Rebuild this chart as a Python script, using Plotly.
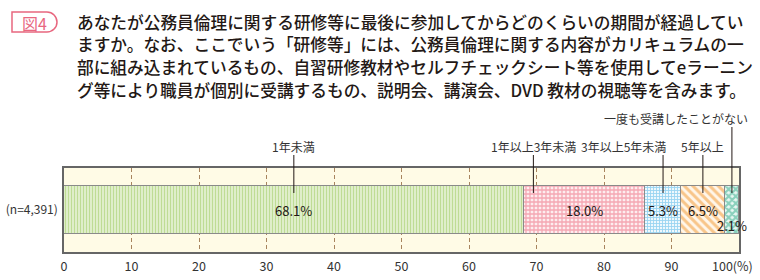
import plotly.graph_objects as go

# ---- data -------------------------------------------------------------
categories = ["1年未満", "1年以上3年未満", "3年以上5年未満", "5年以上", "一度も受講したことがない"]
values = [68.1, 18.0, 5.3, 6.5, 2.1]
sample_label = "(n=4,391)"
x_ticks = [0, 10, 20, 30, 40, 50, 60, 70, 80, 90, 100]
fig_tag = "図4"
question_lines = [
    "あなたが公務員倫理に関する研修等に最後に参加してからどのくらいの期間が経過してい",
    "ますか。なお、ここでいう「研修等」には、公務員倫理に関する内容がカリキュラムの一",
    "部に組み込まれているもの、自習研修教材やセルフチェックシート等を使用してeラーニン",
    "グ等により職員が個別に受講するもの、説明会、講演会、DVD 教材の視聴等を含みます。",
]

# ---- styling ----------------------------------------------------------
patterns = [
    dict(shape="|", fgcolor="#8DC247", bgcolor="#EEF6E2", size=3, solidity=0.55),
    dict(shape="+", fgcolor="#EC6277", bgcolor="#FDEDEF", size=4, solidity=0.55),
    dict(shape="+", fgcolor="#45B1E6", bgcolor="#EEF8FD", size=3, solidity=0.5),
    dict(shape="\\", fgcolor="#F29428", bgcolor="#FFF6EA", size=6, solidity=0.5),
    dict(shape="x", fgcolor="#2AAA86", bgcolor="#EAF7F3", size=5, solidity=0.65),
]
# where each callout line meets its segment (fraction of segment width)
leader_frac = [0.5, 0.08, 0.5, 0.5, 0.5]
# callout text placement: (anchor, x pixel shift, label y px, line top px)
callout_style = [
    ("center", 0, 146, 155),
    ("center", 0, 146, 155),
    ("right", 5, 146, 155),
    ("center", 0, 146, 155),
    ("right", 18, 118, 127),
]

W, H = 760, 280
M = dict(l=64, r=21, t=168, b=28)
PW = W - M["l"] - M["r"]
PH = H - M["t"] - M["b"]


def px_x(px):
    return (px - M["l"]) / PW


def px_y(py):
    return (H - M["b"] - py) / PH


TEXT = "#231815"
FONT = "Noto Sans CJK JP"

fig = go.Figure()

starts = []
acc = 0.0
for v in values:
    starts.append(acc)
    acc += v

for name, v, pat in zip(categories, values, patterns):
    fig.add_trace(go.Bar(
        y=[sample_label], x=[v], name=name, orientation="h", width=0.57,
        marker=dict(color=pat["bgcolor"], pattern=pat,
                    line=dict(color="#8A8A8A", width=1)),
        showlegend=False, hoverinfo="skip",
    ))

annotations = []
shapes = []

# value labels
for i, (s, v) in enumerate(zip(starts, values)):
    annotations.append(dict(
        x=s + v / 2, y=sample_label, xref="x", yref="y",
        text=f"{v:.1f}%", showarrow=False,
        font=dict(family=FONT, size=13, color=TEXT),
        yshift=-15 if i == len(values) - 1 else 0,
    ))

# callouts
for name, s, v, f, (anc, xs, ly, top) in zip(categories, starts, values,
                                              leader_frac, callout_style):
    lx = s + v * f
    shapes.append(dict(type="line", xref="x", yref="paper",
                       x0=lx, x1=lx, y0=px_y(top), y1=px_y(193),
                       line=dict(color="#231815", width=1)))
    annotations.append(dict(
        x=lx, y=px_y(ly), xref="x", yref="paper", text=name,
        showarrow=False, xanchor=anc, yanchor="middle", xshift=xs,
        font=dict(family=FONT, size=12, color="#333333"),
    ))

# last tick label with unit
annotations.append(dict(
    x=x_ticks[-1], y=px_y(265), xref="x", yref="paper", text="100(%)",
    showarrow=False, xanchor="center", yanchor="middle", xshift=-7,
    font=dict(family=FONT, size=12.5, color="#333333"),
))

# question text
line_y = [22, 44.5, 67, 89.5]
for t, ly in zip(question_lines, line_y):
    annotations.append(dict(
        x=px_x(75), y=px_y(ly), xref="paper", yref="paper", text=t,
        showarrow=False, xanchor="left", yanchor="middle",
        font=dict(family=FONT, size=16.7, color=TEXT, weight=500),
    ))

# figure tag box (square left end, round right end)
x0, x1, yt, yb, r = 12, 47, 12, 32, 10
k = 0.5523 * r
cy = (yt + yb) / 2
pts = lambda x, y: f"{px_x(x):.5f},{px_y(y):.5f}"
path = (f"M {pts(x0, yt)} L {pts(x1, yt)} "
        f"C {pts(x1 + k, yt)} {pts(x1 + r, cy - k)} {pts(x1 + r, cy)} "
        f"C {pts(x1 + r, cy + k)} {pts(x1 + k, yb)} {pts(x1, yb)} "
        f"L {pts(x0, yb)} Z")
shapes.append(dict(type="path", xref="paper", yref="paper", path=path,
                   line=dict(color="#E8677F", width=1.5), fillcolor="#FFFFFF"))
annotations.append(dict(
    x=px_x(34), y=px_y(22.5), xref="paper", yref="paper", text=fig_tag,
    showarrow=False, xanchor="center", yanchor="middle",
    font=dict(family=FONT, size=16, color="#E8677F"),
))

fig.update_layout(
    width=W, height=H, margin=dict(l=M["l"], r=M["r"], t=M["t"], b=M["b"], pad=0),
    barmode="stack", bargap=0,
    paper_bgcolor="#FFFFFF", plot_bgcolor="#FFFBE6",
    font=dict(family=FONT, size=12, color="#333333"),
    annotations=annotations, shapes=shapes,
    xaxis=dict(
        range=[0, 100], tickmode="array", tickvals=x_ticks,
        ticktext=[str(t) for t in x_ticks[:-1]] + [""],
        showgrid=True, gridcolor="#A8845E", griddash="4px,3px", gridwidth=1,
        showline=True, mirror=True, linecolor="#666666", linewidth=1.5,
        ticks="", zeroline=False, ticklabelstandoff=2, automargin=False,
        tickfont=dict(family=FONT, size=12.5, color="#333333"),
    ),
    yaxis=dict(
        range=[-0.5, 0.5], showgrid=False, showline=True, mirror=True,
        linecolor="#666666", linewidth=1.5, ticks="", ticklabelstandoff=2,
        automargin=False,
        tickfont=dict(family=FONT, size=12, color="#333333"),
    ),
)

fig.write_html("out.html")
